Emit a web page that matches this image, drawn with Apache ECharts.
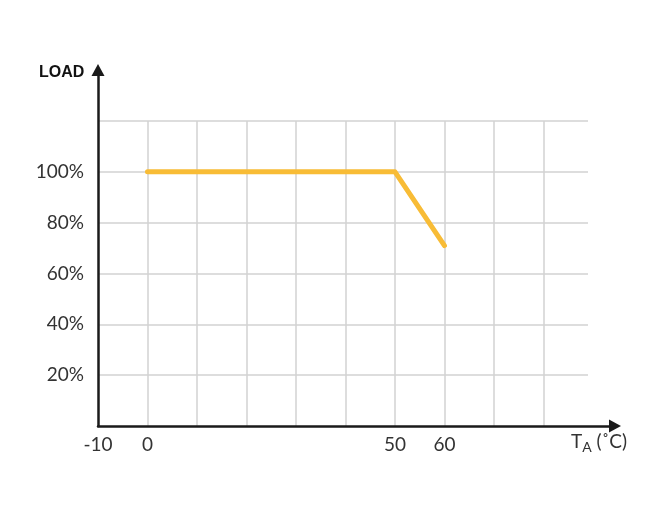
<!DOCTYPE html>
<html><head><meta charset="utf-8">
<script src="https://cdn.jsdelivr.net/npm/echarts@6/dist/echarts.min.js"></script>
<style>html,body{margin:0;padding:0;background:#fff}#c{width:650px;height:523px}</style>
</head><body><div id="c"></div>
<script>
// Data
const temps = [0, 50, 60];
const loads = [100, 100, 71];
const xTickLabels = [-10, 0, 50, 60];
const yTickLabels = [20, 40, 60, 80, 100];

const font = 'Lato, "Open Sans", sans-serif';
const chart = echarts.init(document.getElementById('c'), null, {renderer: 'canvas'});
chart.setOption({
  backgroundColor: '#fff',
  animation: false,
  grid: [
    {left: 98, right: 62, top: 121, bottom: 97},
    {left: 98, right: 35, top: 70, bottom: 97}
  ],
  xAxis: [
    {gridIndex: 0, type: 'value', min: -10, max: 89, interval: 10,
     axisLine: {show: false}, axisTick: {show: false},
     splitLine: {show: true, showMinLine: false, showMaxLine: false, lineStyle: {color: '#d2d2d2', width: 1.5}},
     axisLabel: {margin: 9, fontFamily: font, fontSize: 19, color: '#333',
       formatter: v => xTickLabels.includes(v) ? String(v) : ''}},
    {gridIndex: 1, type: 'value', min: 0, max: 1,
     axisLine: {show: true, symbol: ['none', 'triangle'], symbolSize: [13, 12], lineStyle: {color: '#1a1a1a', width: 2.5}},
     axisTick: {show: false}, axisLabel: {show: false}, splitLine: {show: false}}
  ],
  yAxis: [
    {gridIndex: 0, type: 'value', min: 0, max: 120, interval: 20,
     axisLine: {show: false}, axisTick: {show: false},
     splitLine: {show: true, showMinLine: false, lineStyle: {color: '#d2d2d2', width: 1.5}},
     axisLabel: {margin: 14, fontFamily: font, fontSize: 19, color: '#333',
       formatter: v => yTickLabels.includes(v) ? v + '%' : ''}},
    {gridIndex: 1, type: 'value', min: 0, max: 1,
     axisLine: {show: true, symbol: ['none', 'triangle'], symbolSize: [13, 12], lineStyle: {color: '#1a1a1a', width: 2.5}},
     axisTick: {show: false}, axisLabel: {show: false}, splitLine: {show: false}}
  ],
  series: [{
    type: 'line', xAxisIndex: 0, yAxisIndex: 0,
    data: temps.map((t, i) => [t, loads[i]]),
    showSymbol: false, symbol: 'none',
    lineStyle: {color: '#F8BC36', width: 5, cap: 'round', join: 'round'}
  }],
  graphic: [
    {type: 'text', left: 39, top: 65, style: {text: 'LOAD', font: 'bold 16px "Liberation Sans", sans-serif', fill: '#111'}},
    {type: 'text', left: 571, top: 432, style: {
      text: 'T{s|A} (˚C)', fontFamily: font, fontSize: 19, fill: '#333',
      rich: {s: {fontFamily: font, fontSize: 14, fill: '#333', padding: [12, 0, 0, 0]}}}}
  ]
});
</script></body></html>
